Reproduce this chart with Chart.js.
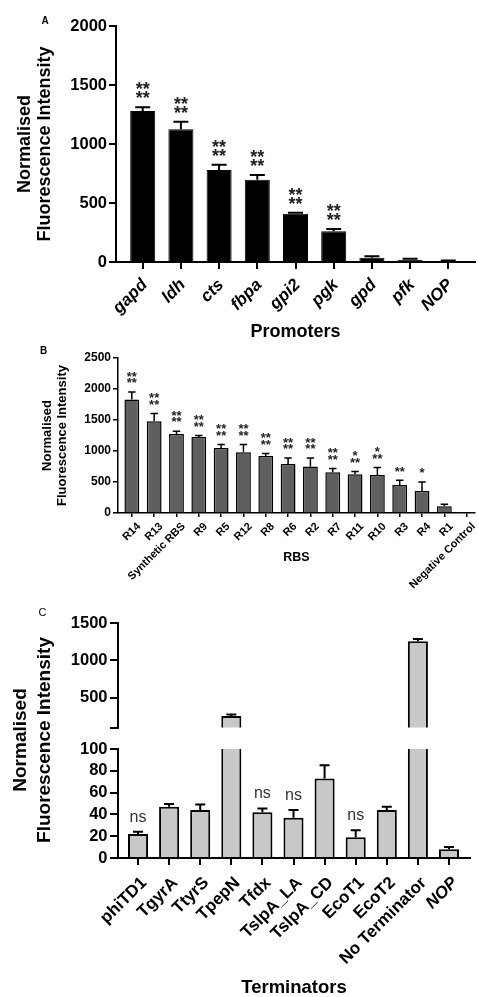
<!DOCTYPE html>
<html>
<head>
<meta charset="utf-8">
<script src="https://cdn.jsdelivr.net/npm/chart.js@4"></script>
<style>
  body { margin: 0; background: #fff; }
  #figure { position: relative; width: 479px; height: 997px; overflow: hidden; background: #fff; }
  canvas { position: absolute; left: 0; }
</style>
</head>
<body>
<div id="figure">
  <canvas id="promoterChart" width="479" height="347" style="top:0"></canvas>
  <canvas id="rbsChart" width="479" height="260" style="top:340px"></canvas>
  <canvas id="terminatorLow" width="479" height="397" style="top:600px"></canvas>
  <canvas id="terminatorHigh" width="479" height="140" style="top:600px"></canvas>
</div>
<script>
// panel A - promoters
const promoters = ["gapd", "ldh", "cts", "fbpa", "gpi2", "pgk", "gpd", "pfk", "NOP"];
const promoterMeans = [1280, 1125, 780, 697, 409, 260, 36, 20, 8];
const promoterErrors = [31, 64, 45, 40, 9, 20, 12, 8, 4];
const promoterMarks = ["**\n**", "**\n**", "**\n**", "**\n**", "**\n**", "**\n**", "", "", ""];

// panel B - RBS
const rbsNames = ["R14", "R13", "Synthetic RBS", "R9", "R5", "R12", "R8", "R6", "R2", "R7", "R11", "R10", "R3", "R4", "R1", "Negative Control"];
const rbsMeans = [1829, 1479, 1274, 1226, 1048, 979, 919, 790, 748, 656, 624, 613, 452, 355, 108, 3];
const rbsErrors = [122, 124, 44, 22, 55, 124, 39, 97, 139, 60, 44, 119, 75, 145, 32, 2];
const rbsMarks = ["**\n**", "**\n**", "**\n**", "**\n**", "**\n**", "**\n**", "**\n**", "**\n**", "**\n**", "**\n**", "*\n**", "*\n**", "**", "*", "", ""];

// panel C - terminators (broken axis)
const terminators = ["phiTD1", "TgyrA", "TtyrS", "TpepN", "Tfdx", "TslpA_LA", "TslpA_CD", "EcoT1", "EcoT2", "No Terminator", "NOP"];
const terminatorMeans = [22, 47, 44, 255, 42, 37, 73, 19, 44, 1255, 8];
const terminatorErrors = [2, 2.5, 5, 20, 3.5, 7, 12, 6.5, 3, 30, 2];
const terminatorMarks = ["ns", "", "", "", "ns", "ns", "", "ns", "", "", ""];
const lowTicks = [0, 20, 40, 60, 80, 100];
const highTicks = [100, 500, 1000, 1500];

const FONT = '"Liberation Sans", Arial, sans-serif';
Chart.defaults.font.family = FONT;
Chart.defaults.color = "#000";
Chart.defaults.animation = false;

const errorBars = {
  id: "errorBars",
  afterDatasetsDraw(chart, args, opts) {
    if (!opts.errors) return;
    const { ctx, chartArea } = chart;
    const yScale = chart.scales.y;
    const meta = chart.getDatasetMeta(0);
    const points = chart.data.datasets[0].data;
    ctx.save();
    ctx.beginPath();
    ctx.rect(chartArea.left, chartArea.top - 2, chartArea.width, chartArea.height + 2);
    ctx.clip();
    ctx.strokeStyle = "#000";
    ctx.lineWidth = opts.lineWidth;
    meta.data.forEach((bar, i) => {
      const v = points[i].y;
      if (v == null) return;
      const top = yScale.getPixelForValue(v + opts.errors[i]);
      const half = bar.width * opts.cap / 2;
      ctx.beginPath();
      ctx.moveTo(bar.x, bar.y);
      ctx.lineTo(bar.x, top);
      ctx.moveTo(bar.x - half, top);
      ctx.lineTo(bar.x + half, top);
      ctx.stroke();
    });
    ctx.restore();

    if (!opts.marks) return;
    ctx.save();
    ctx.font = opts.markFont;
    ctx.fillStyle = opts.markColor || "#222";
    ctx.textAlign = "center";
    ctx.textBaseline = "alphabetic";
    meta.data.forEach((bar, i) => {
      const text = opts.marks[i];
      if (!text) return;
      const lines = text.split("\n");
      const base = yScale.getPixelForValue(points[i].y + opts.errors[i]) - opts.markOffset;
      lines.forEach((line, j) => {
        ctx.fillText(line, bar.x, base - (lines.length - 1 - j) * opts.markGap);
      });
    });
    ctx.restore();
  }
};

const panelText = {
  id: "panelText",
  afterDraw(chart, args, opts) {
    const ctx = chart.ctx;
    (opts.items || []).forEach((item) => {
      ctx.save();
      ctx.font = item.font;
      ctx.fillStyle = "#000";
      ctx.textAlign = "center";
      ctx.textBaseline = "middle";
      ctx.translate(item.x, item.y);
      if (item.rotate) ctx.rotate(-Math.PI / 2);
      ctx.fillText(item.text, 0, 0);
      ctx.restore();
    });
  }
};

function toPoints(values) {
  return values.map((v, i) => ({ x: i, y: v }));
}

function categoryAxis(names, min, max, o) {
  return {
    type: "linear",
    display: o.display !== false,
    offset: false,
    min: min,
    max: max,
    afterBuildTicks: (s) => { s.ticks = names.map((n, i) => ({ value: i })); },
    afterFit: (s) => { if (o.height) s.height = o.height; },
    border: { color: "#000", width: o.lineWidth },
    grid: { offset: false, drawOnChartArea: false, color: "#000", lineWidth: o.lineWidth, tickLength: o.tickLength },
    ticks: {
      autoSkip: false,
      minRotation: 45,
      maxRotation: 45,
      padding: o.labelPad || 1,
      labelOffset: o.labelShift || 0,
      font: (ctx) => ({ size: o.fontSize, weight: "bold", style: o.italic(names[ctx.index]) ? "italic" : "normal" }),
      callback: (v) => names[v]
    },
    title: {
      display: !!o.title,
      text: o.title,
      font: { size: o.titleSize, weight: "bold", lineHeight: o.titleLine || 1.2 },
      padding: o.titlePadding || { top: 0, bottom: 4 }
    }
  };
}

function valueAxis(min, max, ticksList, o) {
  return {
    min: min,
    max: max,
    afterFit: (s) => { s.width = o.width; },
    afterBuildTicks: (s) => { s.ticks = ticksList.map((v) => ({ value: v })); },
    border: { color: "#000", width: o.lineWidth },
    grid: { drawOnChartArea: false, color: "#000", lineWidth: o.lineWidth, tickLength: o.tickLength },
    ticks: {
      autoSkip: false,
      padding: o.padding,
      font: { size: o.fontSize, weight: "bold" },
      callback: o.label || ((v) => v)
    },
    title: {
      display: !!o.title,
      text: o.title,
      font: { size: o.titleSize, weight: "bold", lineHeight: o.titleLine },
      padding: { top: o.titleOffset, bottom: 0 }
    }
  };
}

// ---- A ----
new Chart(document.getElementById("promoterChart"), {
  type: "bar",
  data: {
    datasets: [{
      data: toPoints(promoterMeans),
      backgroundColor: "#000",
      borderColor: "#000",
      borderWidth: 1,
      categoryPercentage: 1,
      barPercentage: 0.655
    }]
  },
  options: {
    responsive: false,
    layout: { padding: { top: 26, right: 4, bottom: 0, left: 0 } },
    scales: {
      x: categoryAxis(promoters, -0.699, 8.699, {
        height: 85, lineWidth: 2, tickLength: 7, fontSize: 17, labelShift: 2, labelPad: 6,
        italic: () => true, title: "Promoters", titleSize: 18
      }),
      y: valueAxis(0, 2000, [0, 500, 1000, 1500, 2000], {
        width: 116, lineWidth: 2, tickLength: 7, padding: 2, fontSize: 16.5,
        title: ["Normalised", "Fluorescence Intensity"], titleSize: 18, titleLine: 1.1, titleOffset: 15
      })
    },
    plugins: {
      legend: { display: false },
      tooltip: { enabled: false },
      errorBars: {
        errors: promoterErrors, lineWidth: 2, cap: 0.6,
        marks: promoterMarks, markFont: "bold 18px " + FONT, markOffset: 3, markGap: 9
      },
      panelText: { items: [{ text: "A", x: 45, y: 21, font: "bold 10px " + FONT }] }
    }
  },
  plugins: [errorBars, panelText]
});

// ---- B ----
new Chart(document.getElementById("rbsChart"), {
  type: "bar",
  data: {
    datasets: [{
      data: toPoints(rbsMeans),
      backgroundColor: "#5f5f5f",
      borderColor: "#000",
      borderWidth: 1.5,
      categoryPercentage: 1,
      barPercentage: 0.665
    }]
  },
  options: {
    responsive: false,
    layout: { padding: { top: 18, right: 0, bottom: 0, left: 0 } },
    scales: {
      x: categoryAxis(rbsNames, -0.62, 15.37, {
        height: 87, lineWidth: 1.5, tickLength: 4, fontSize: 11, labelShift: 7, labelPad: 3,
        italic: () => false, title: "RBS", titleSize: 12.5,
        titlePadding: { top: 0, bottom: 34.5 }
      }),
      y: valueAxis(0, 2500, [0, 500, 1000, 1500, 2000, 2500], {
        width: 118, lineWidth: 1.5, tickLength: 5, padding: 2, fontSize: 12,
        title: ["Normalised", "Fluorescence Intensity"], titleSize: 13, titleLine: 1.15, titleOffset: 39.5
      })
    },
    plugins: {
      legend: { display: false },
      tooltip: { enabled: false },
      errorBars: {
        errors: rbsErrors, lineWidth: 1.5, cap: 0.5,
        marks: rbsMarks, markFont: "bold 13px " + FONT, markOffset: 4.8, markGap: 6.7
      },
      panelText: { items: [{ text: "B", x: 43.5, y: 11, font: "bold 10px " + FONT }] }
    }
  },
  plugins: [errorBars, panelText]
});

// ---- C (lower segment, 0-100) ----
new Chart(document.getElementById("terminatorLow"), {
  type: "bar",
  data: {
    datasets: [{
      data: toPoints(terminatorMeans),
      backgroundColor: "#c8c8c8",
      borderColor: "#000",
      borderWidth: 2,
      categoryPercentage: 1,
      barPercentage: 0.645
    }]
  },
  options: {
    responsive: false,
    layout: { padding: { top: 149, right: 9, bottom: 0, left: 0 } },
    scales: {
      x: categoryAxis(terminators, -0.644, 10.676, {
        height: 139, lineWidth: 2, tickLength: 7, fontSize: 17, labelShift: 6, labelPad: 8,
        italic: (n) => n === "NOP", title: "Terminators", titleSize: 18.5,
        titleLine: 1, titlePadding: { top: 0, bottom: 0 }
      }),
      y: valueAxis(lowTicks[0], lowTicks[lowTicks.length - 1], lowTicks, {
        width: 118, lineWidth: 2, tickLength: 8, padding: 2.5, fontSize: 16.5
      })
    },
    plugins: {
      legend: { display: false },
      tooltip: { enabled: false },
      errorBars: {
        errors: terminatorErrors, lineWidth: 2, cap: 0.5,
        marks: terminatorMarks, markFont: "16px " + FONT, markColor: "#333", markOffset: 10.3, markGap: 16
      },
      panelText: {
        items: [
          { text: "C", x: 42.5, y: 13, font: "11px " + FONT },
          { text: "Normalised", x: 21, y: 140, font: "bold 19px " + FONT, rotate: true },
          { text: "Fluorescence Intensity", x: 45, y: 140, font: "bold 19px " + FONT, rotate: true }
        ]
      }
    }
  },
  plugins: [errorBars, panelText]
});

// ---- C (upper segment, 100-1500) ----
const highMin = highTicks[0];
new Chart(document.getElementById("terminatorHigh"), {
  type: "bar",
  data: {
    datasets: [{
      data: toPoints(terminatorMeans.map((v) => (v > highMin ? v : null))),
      backgroundColor: "#c8c8c8",
      borderColor: "#000",
      borderWidth: 2,
      categoryPercentage: 1,
      barPercentage: 0.645
    }]
  },
  options: {
    responsive: false,
    layout: { padding: { top: 23, right: 9, bottom: 9, left: 0 } },
    scales: {
      x: categoryAxis(terminators, -0.644, 10.676, {
        display: false, lineWidth: 2, tickLength: 7, fontSize: 17, italic: () => false
      }),
      y: valueAxis(highMin, highTicks[highTicks.length - 1], highTicks, {
        width: 118, lineWidth: 2, tickLength: 8, padding: 2.5, fontSize: 16.5,
        label: (v) => (v === highMin ? "" : v)
      })
    },
    plugins: {
      legend: { display: false },
      tooltip: { enabled: false },
      errorBars: { errors: terminatorErrors, lineWidth: 2, cap: 0.5 }
    }
  },
  plugins: [errorBars]
});
</script>
</body>
</html>
